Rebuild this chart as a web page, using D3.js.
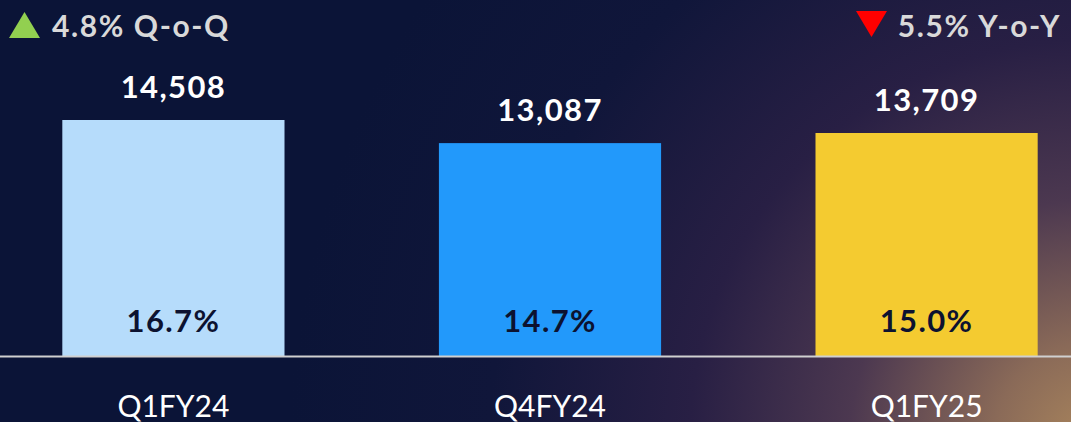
<!DOCTYPE html>
<meta charset="utf-8">
<script src="https://d3js.org/d3.v7.min.js"></script>
<style>
  body { margin: 0; background: #0b1437; }
  svg { display: block; font-family: Lato, "Open Sans", sans-serif; }
</style>
<div id="chart"></div>
<script>

// data
var quarters = ["Q1FY24", "Q4FY24", "Q1FY25"];
var values = [14508, 13087, 13709];
var shares = ["16.7%", "14.7%", "15.0%"];
var barColors = ["#b6dcfb", "#2299fb", "#f4cb30"];
var qoq = "4.8% Q-o-Q";
var yoy = "5.5% Y-o-Y";

var width = 1071, height = 422;
var baseY = 356;

var svg = d3.select("#chart").append("svg")
  .attr("width", width)
  .attr("height", height);

// background glow from the lower right corner
var defs = svg.append("defs");
var grad = defs.append("radialGradient")
  .attr("id", "bg")
  .attr("gradientUnits", "userSpaceOnUse")
  .attr("cx", 1090).attr("cy", 440).attr("r", 800);
grad.append("stop").attr("offset", "0").attr("stop-color", "#a8845c");
grad.append("stop").attr("offset", "0.12").attr("stop-color", "#8a6a58");
grad.append("stop").attr("offset", "0.3").attr("stop-color", "#4c3850");
grad.append("stop").attr("offset", "0.5").attr("stop-color", "#281f44");
grad.append("stop").attr("offset", "0.75").attr("stop-color", "#10163a");
grad.append("stop").attr("offset", "1").attr("stop-color", "#0b1437");

svg.append("rect")
  .attr("width", width).attr("height", height)
  .attr("fill", "url(#bg)");

var x = d3.scaleBand()
  .domain(quarters)
  .range([-13, 1113])
  .paddingInner(0.41)
  .paddingOuter(0.2);

var y = d3.scaleLinear()
  .domain([0, d3.max(values)])
  .range([baseY, 120]);

var rows = quarters.map(function(q, i) {
  return { q: q, v: values[i], s: shares[i], c: barColors[i] };
});

svg.selectAll("rect.bar")
  .data(rows)
  .enter().append("rect")
    .attr("class", "bar")
    .attr("x", function(d) { return x(d.q); })
    .attr("y", function(d) { return y(d.v); })
    .attr("width", x.bandwidth())
    .attr("height", function(d) { return baseY - y(d.v); })
    .attr("fill", function(d) { return d.c; });

// value labels above bars
svg.selectAll("text.val")
  .data(rows)
  .enter().append("text")
    .attr("class", "val")
    .attr("x", function(d) { return x(d.q) + x.bandwidth() / 2; })
    .attr("y", function(d) { return y(d.v) - 22; })
    .attr("text-anchor", "middle")
    .attr("fill", "#ffffff")
    .style("font-size", "31px")
    .style("font-weight", "bold")
    .style("letter-spacing", "1.4px")
    .text(function(d) { return d3.format(",")(d.v); });

// share labels inside bars
svg.selectAll("text.share")
  .data(rows)
  .enter().append("text")
    .attr("class", "share")
    .attr("x", function(d) { return x(d.q) + x.bandwidth() / 2; })
    .attr("y", baseY - 24)
    .attr("text-anchor", "middle")
    .attr("fill", "#0c1230")
    .style("font-size", "31px")
    .style("font-weight", "bold")
    .style("letter-spacing", "1.4px")
    .text(function(d) { return d.s; });

// baseline
svg.append("line")
  .attr("x1", 0).attr("x2", width)
  .attr("y1", baseY + 0.5).attr("y2", baseY + 0.5)
  .attr("stroke", "#d0d0d0")
  .attr("stroke-width", 2);

// category axis
var xAxis = svg.append("g")
  .attr("transform", "translate(0," + baseY + ")")
  .call(d3.axisBottom(x).tickSize(0).tickPadding(40));
xAxis.select(".domain").remove();
xAxis.selectAll("text")
  .attr("fill", "#ffffff")
  .style("font-family", "Lato, sans-serif")
  .style("font-size", "30px");

// change indicators
svg.append("path")
  .attr("d", "M9,38 L24.5,12 L40,38 Z")
  .attr("fill", "#92d050");
svg.append("text")
  .attr("x", 52).attr("y", 37)
  .attr("fill", "#d9d9d9")
  .style("font-size", "30px")
  .style("font-weight", "bold")
  .style("letter-spacing", "1.6px")
  .text(qoq);

svg.append("path")
  .attr("d", "M856,11 L887,11 L871.5,37 Z")
  .attr("fill", "#ff0000");
svg.append("text")
  .attr("x", 1061).attr("y", 37)
  .attr("text-anchor", "end")
  .attr("fill", "#d9d9d9")
  .style("font-size", "30px")
  .style("font-weight", "bold")
  .style("letter-spacing", "1.6px")
  .text(yoy);

</script>
